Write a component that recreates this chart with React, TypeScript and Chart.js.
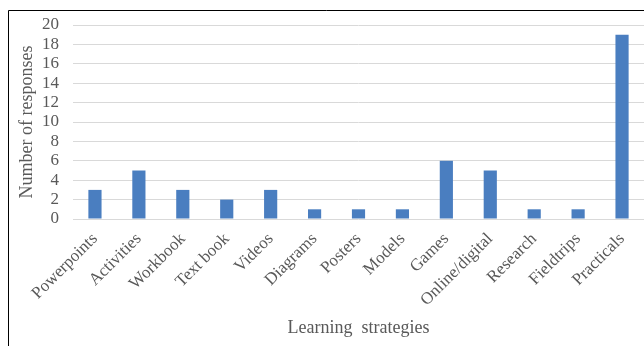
import React, { useEffect, useRef } from "react";
import { Chart, registerables } from "chart.js";

Chart.register(...registerables);

const categories = [
  "Powerpoints", "Activities", "Workbook", "Text book", "Videos", "Diagrams",
  "Posters", "Models", "Games", "Online/digital", "Research", "Fieldtrips", "Practicals",
];
const responses = [3, 5, 3, 2, 3, 1, 1, 1, 6, 5, 1, 1, 19];
const xTitle = "Learning  strategies";
const yTitle = "Number of responses";

const FONT = "'Liberation Serif', 'Times New Roman', serif";
const TEXT = "#595959";

const frame = {
  id: "frame",
  afterDraw(chart: any) {
    const ctx = chart.ctx;
    ctx.save();
    ctx.strokeStyle = "#000";
    ctx.lineWidth = 1;
    ctx.beginPath();
    ctx.moveTo(8.5, 346);
    ctx.lineTo(8.5, 10.5);
    ctx.lineTo(644, 10.5);
    ctx.stroke();
    ctx.restore();
  },
};

export default function App() {
  const ref = useRef<HTMLCanvasElement>(null);
  useEffect(() => {
    document.body.style.margin = "0";
    const chart = new Chart(ref.current!, {
      type: "bar",
      data: {
        labels: categories,
        datasets: [{
          data: responses,
          backgroundColor: "#4a7ec0",
          borderWidth: 0,
          barPercentage: 0.3,
          categoryPercentage: 1,
        }],
      },
      options: {
        animation: false,
        responsive: false,
        maintainAspectRatio: false,
        layout: { padding: { top: 25, right: 0, bottom: 0, left: 0 } },
        plugins: { legend: { display: false }, tooltip: { enabled: false } },
        scales: {
          x: {
            grid: { display: false },
            border: { display: false },
            ticks: {
              color: TEXT, font: { family: FONT, size: 17 },
              maxRotation: 45, minRotation: 45, padding: 2, autoSkip: false,
            },
            title: {
              display: true, text: xTitle, color: TEXT,
              font: { family: FONT, size: 18 }, padding: { top: 0, bottom: 7 },
            },
            afterFit(scale: any) { scale.height = 127; },
          },
          y: {
            min: 0, max: 20,
            grid: { color: "#d9d9d9", drawTicks: false },
            border: { display: false },
            ticks: {
              stepSize: 2, autoSkip: false, color: TEXT,
              font: { family: FONT, size: 17 }, padding: 14,
            },
            title: {
              display: true, text: yTitle, color: TEXT,
              font: { family: FONT, size: 18 }, padding: { top: 16, bottom: 0 },
            },
            afterFit(scale: any) { scale.width = 73; },
          },
        },
      },
      plugins: [frame],
    });
    return () => chart.destroy();
  }, []);
  return <canvas ref={ref} width={644} height={346} style={{ display: "block" }} />;
}
